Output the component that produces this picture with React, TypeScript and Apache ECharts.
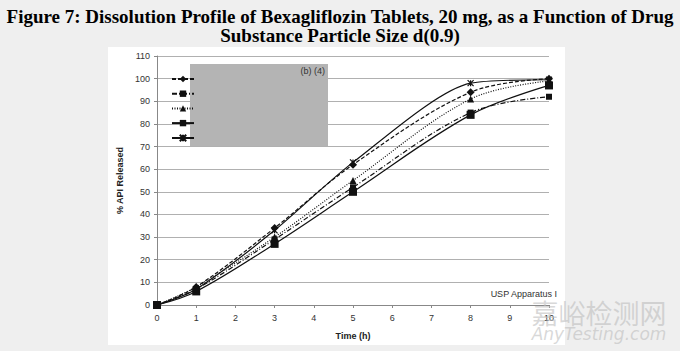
import React, { useEffect, useRef } from "react";
import * as echarts from "echarts";

const titleText = "Figure 7: Dissolution Profile of Bexagliflozin Tablets, 20 mg, as a Function of Drug\nSubstance Particle Size d(0.9)";
const timePoints = [0, 1, 3, 5, 8, 10];
const seriesDiamond = [0, 8, 34, 62, 94, 100];
const seriesSmallSquare = [0, 7, 29, 52, 85, 92];
const seriesTriangle = [0, 8, 30, 55, 91, 99];
const seriesSquare = [0, 6, 27, 50, 84, 97];
const seriesStar = [0, 7, 33, 63, 98, 99.5];
const yTitle = "% API Released";
const xTitle = "Time (h)";
const noteText = "USP Apparatus I";
const redactText = "(b) (4)";

const starPath = "path://M0,0L10,10M10,0L0,10M5,0L5,10";

function pts(ys: number[]) {
  return timePoints.map((t, i) => [t, ys[i]]);
}

export default function App() {
  const ref = useRef<HTMLDivElement>(null);
  useEffect(() => {
    if (!ref.current) return;
    const chart = echarts.init(ref.current, undefined, { renderer: "svg" });
    const lineBase = { color: "#111", width: 1.2 };
    const mk = (name: string, data: number[], symbol: string, size: number, type: any, smooth = 0.35) => ({
      name,
      type: "line",
      data: pts(data),
      smooth,
      symbol,
      symbolSize: size,
      showSymbol: true,
      lineStyle: { ...lineBase, type },
      itemStyle: { color: "#111", borderColor: "#111", borderWidth: symbol === starPath ? 1.2 : 0 },
      z: 3,
    });
    chart.setOption({
      animation: false,
      backgroundColor: "#efefef",
      graphic: [
        { type: "rect", shape: { x: 108, y: 47, width: 457, height: 298 }, style: { fill: "#fff" }, z: -10 },
        {
          type: "text", x: 340, y: 7, z: 11,
          style: {
            text: titleText, align: "center", verticalAlign: "top",
            fontFamily: "Liberation Serif", fontWeight: "bold", fontSize: 19, lineHeight: 19, fill: "#000",
          },
        },
        { type: "rect", shape: { x: 190, y: 64, width: 138, height: 82 }, style: { fill: "#b4b4b4" }, z: 10 },
        {
          type: "text", x: 325, y: 66, z: 11,
          style: { text: redactText, align: "right", verticalAlign: "top", fontFamily: "Liberation Sans", fontSize: 9, fill: "#333" },
        },
        {
          type: "text", x: 557, y: 294, z: 11,
          style: { text: noteText, align: "right", verticalAlign: "middle", fontFamily: "Liberation Sans", fontSize: 9, fill: "#333" },
        },
        {
          type: "text", x: 599, y: 312, z: 20,
          style: { text: "嘉峪检测网", align: "center", verticalAlign: "middle", fontFamily: "Noto Sans CJK SC", fontSize: 27, fill: "rgba(190,190,190,0.6)" },
        },
        {
          type: "text", x: 599, y: 334, z: 20,
          style: { text: "AnyTesting.com", align: "center", verticalAlign: "middle", fontFamily: "DejaVu Sans", fontStyle: "italic", fontSize: 17, fill: "rgba(190,190,190,0.6)" },
        },
      ],
      legend: {
        orient: "vertical",
        left: 166,
        top: 70,
        itemWidth: 22,
        itemHeight: 8,
        itemGap: 7.5,
        formatter: () => "",
        selectedMode: false,
        z: 12,
        textStyle: { fontSize: 1 },
      },
      grid: { left: 157, right: 131, top: 56, bottom: 46 },
      xAxis: {
        type: "value",
        min: 0,
        max: 10,
        interval: 1,
        name: xTitle,
        nameLocation: "middle",
        nameGap: 26,
        nameTextStyle: { fontFamily: "Liberation Sans", fontWeight: "bold", fontSize: 9, color: "#222" },
        axisLine: { lineStyle: { color: "#888", width: 1 } },
        axisTick: { show: true, length: 3, lineStyle: { color: "#888" } },
        axisLabel: { fontFamily: "Liberation Sans", fontSize: 9, color: "#333", margin: 8 },
        splitLine: { show: false },
      },
      yAxis: {
        type: "value",
        min: 0,
        max: 110,
        interval: 10,
        name: yTitle,
        nameLocation: "middle",
        nameGap: 28,
        nameTextStyle: { fontFamily: "Liberation Sans", fontWeight: "bold", fontSize: 9, color: "#222" },
        axisLine: { show: true, lineStyle: { color: "#888", width: 1 } },
        axisTick: { show: true, length: 3, lineStyle: { color: "#888" } },
        axisLabel: { fontFamily: "Liberation Sans", fontSize: 9, color: "#333", margin: 7 },
        splitLine: { lineStyle: { color: "#b0b0b0", width: 1.2 } },
      },
      series: [
        mk("s1", seriesDiamond, "diamond", 8, [4, 2]),
        mk("s2", seriesSmallSquare, "rect", 6, [5, 2, 1, 2]),
        mk("s3", seriesTriangle, "triangle", 7, [1, 1.5]),
        mk("s4", seriesSquare, "rect", 8, "solid"),
        mk("s5", seriesStar, starPath, 6, "solid", 0.25),
      ],
    });
    return () => chart.dispose();
  }, []);
  return <div ref={ref} style={{ position: "fixed", left: 0, top: 0, width: 680, height: 351 }} />;
}
